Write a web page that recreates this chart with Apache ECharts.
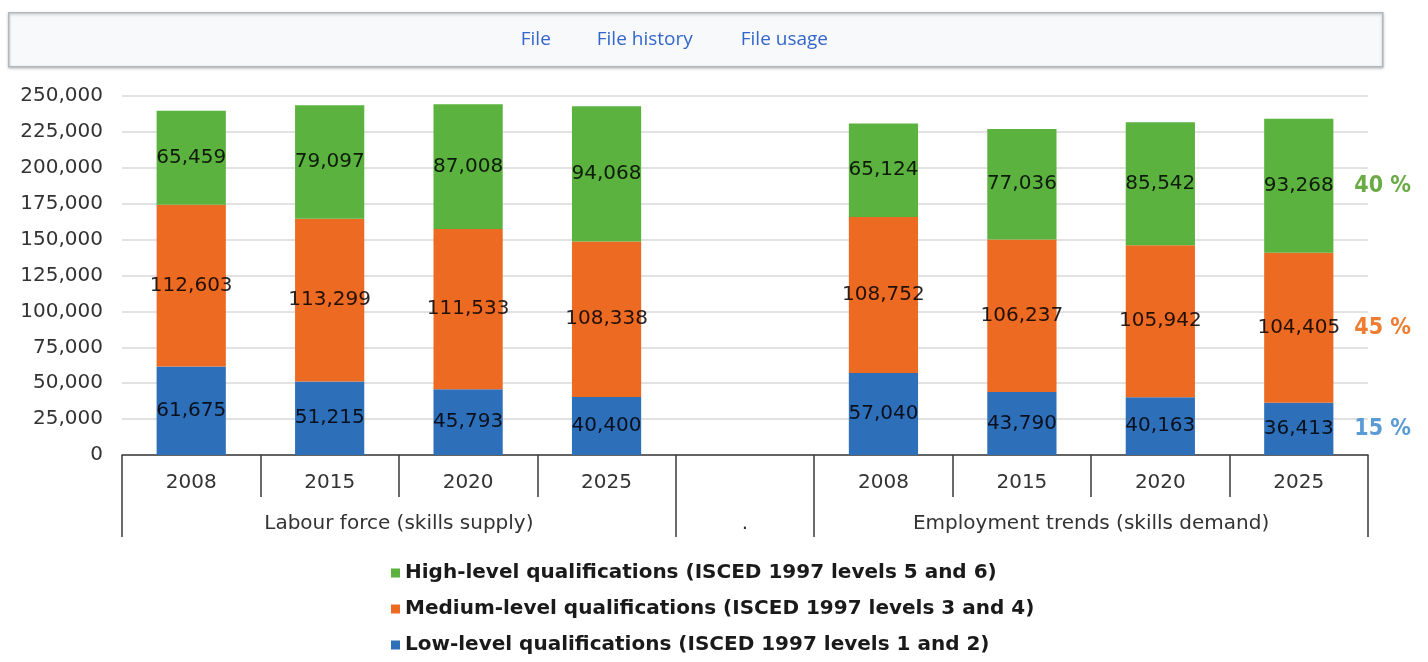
<!DOCTYPE html>
<html>
<head>
<meta charset="utf-8">
<title>Skills supply and demand</title>
<script src="https://cdn.jsdelivr.net/npm/echarts@6/dist/echarts.min.js"></script>
<style>
  html, body { margin: 0; padding: 0; background: #fff; }
  #main { width: 1428px; height: 662px; }
</style>
</head>
<body>
<div id="main"></div>
<script>
// categories (blank one is the gap between the two groups)
var years = ['2008', '2015', '2020', '2025', '', '2008', '2015', '2020', '2025'];
var groups = ['Labour force (skills supply)', '.', 'Employment trends (skills demand)'];
var groupCenters = [2, 4.5, 7];   // in category units on the helper axis
var groupEdges = [0, 4, 5, 9];

var lowLevel = [61675, 51215, 45793, 40400, null, 57040, 43790, 40163, 36413];
var mediumLevel = [112603, 113299, 111533, 108338, null, 108752, 106237, 105942, 104405];
var highLevel = [65459, 79097, 87008, 94068, null, 65124, 77036, 85542, 93268];

var seriesNames = [
  'Low-level qualifications (ISCED 1997 levels 1 and 2)',
  'Medium-level qualifications (ISCED 1997 levels 3 and 4)',
  'High-level qualifications (ISCED 1997 levels 5 and 6)'
];
var shares = ['15 %', '45 %', '40 %'];

var barColors = ['#2e6fba', '#ec6a22', '#5bb23f'];
var shareColors = ['#5b9bd5', '#ed7d31', '#6aab46'];

var FONT = 'DejaVu Sans';

function fmt(v) {
  return Number(v).toLocaleString('en-US');
}

var chart = echarts.init(document.getElementById('main'), null, { renderer: 'canvas' });

var stacks = [lowLevel, mediumLevel, highLevel];
var last = years.length - 1;

var series = stacks.map(function (vals, i) {
  // centre of this segment on the last bar, for the share label
  var below = 0;
  for (var k = 0; k < i; k++) below += stacks[k][last];
  var mid = below + vals[last] / 2;
  return {
    name: seriesNames[i],
    type: 'bar',
    stack: 'total',
    barWidth: '50%',
    data: vals,
    itemStyle: { color: barColors[i] },
    label: {
      show: true,
      position: 'inside',
      fontFamily: FONT,
      fontSize: 20,
      color: 'rgba(0,0,0,0.85)',
      formatter: function (p) { return fmt(p.value); }
    },
    markPoint: {
      symbol: 'rect',
      symbolSize: 1,
      itemStyle: { color: 'transparent' },
      silent: true,
      label: {
        show: true,
        position: 'right',
        distance: 55,
        fontFamily: 'DejaVu Sans Condensed',
        fontWeight: 'bold',
        fontSize: 23,
        color: shareColors[i],
        formatter: shares[i]
      },
      data: [{ coord: [last, mid] }]
    }
  };
});

var option = {
  animation: false,
  textStyle: { fontFamily: FONT },
  grid: {
    left: 122,
    right: 60,
    top: 96,
    bottom: 207
  },
  legend: {
    orient: 'vertical',
    left: 386,
    top: 558,
    height: 120,
    itemWidth: 9,
    itemHeight: 9,
    itemGap: 16,
    icon: 'rect',
    data: [seriesNames[2], seriesNames[1], seriesNames[0]],
    textStyle: {
      fontFamily: FONT,
      fontSize: 20,
      fontWeight: 'bold',
      color: '#1a1a1a'
    }
  },
  xAxis: [{
    type: 'category',
    data: years,
    position: 'bottom',
    axisLine: { lineStyle: { color: '#3a3a3a', width: 1.5 } },
    axisTick: { show: true, interval: 0, length: 42, lineStyle: { color: '#3a3a3a', width: 1.5 } },
    axisLabel: { interval: 0, margin: 18, fontFamily: FONT, fontSize: 20, color: '#333' }
  }, {
    // helper axis for the group row
    type: 'value',
    min: 0,
    max: 9,
    position: 'bottom',
    offset: 42,
    axisLine: { show: false },
    splitLine: { show: false },
    axisTick: {
      show: true,
      length: 40,
      customValues: groupEdges,
      lineStyle: { color: '#3a3a3a', width: 1.5 }
    },
    axisLabel: {
      margin: 17,
      customValues: groupCenters,
      fontFamily: FONT,
      fontSize: 20,
      color: '#333',
      formatter: function (v) {
        var i = groupCenters.indexOf(v);
        return i >= 0 ? groups[i] : '';
      }
    }
  }],
  yAxis: {
    type: 'value',
    min: 0,
    max: 250000,
    interval: 25000,
    axisLine: { show: false },
    axisTick: { show: false },
    splitLine: { lineStyle: { color: '#d9d9d9', width: 1.5 } },
    axisLabel: {
      margin: 19,
      fontFamily: FONT,
      fontSize: 20,
      color: '#333',
      formatter: function (v) { return fmt(v); }
    }
  },
  graphic: [{
    type: 'group',
    left: 8,
    top: 12,
    children: [{
      type: 'rect',
      shape: { x: 0, y: 0, width: 1374, height: 54 },
      style: {
        fill: '#f8f9fa',
        stroke: '#b4b8bd',
        lineWidth: 1.5,
        shadowBlur: 3,
        shadowOffsetY: 1,
        shadowColor: 'rgba(0,0,0,0.25)'
      }
    }, {
      type: 'text',
      x: 512, y: 27,
      style: { text: 'File', font: '19px "Open Sans"', fill: '#3366cc', verticalAlign: 'middle' }
    }, {
      type: 'text',
      x: 588, y: 27,
      style: { text: 'File history', font: '19px "Open Sans"', fill: '#3366cc', verticalAlign: 'middle' }
    }, {
      type: 'text',
      x: 732, y: 27,
      style: { text: 'File usage', font: '19px "Open Sans"', fill: '#3366cc', verticalAlign: 'middle' }
    }]
  }],
  series: series
};

chart.setOption(option);
</script>
</body>
</html>
